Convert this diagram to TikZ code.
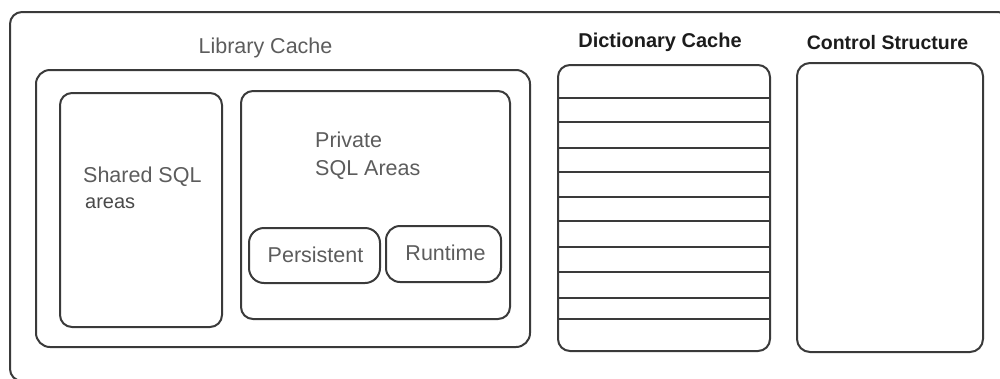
\documentclass[tikz,border=0pt]{standalone}
\usepackage{fontspec}
\setmainfont{Liberation Sans}
\definecolor{edge}{HTML}{3A3A3A}
\definecolor{graytext}{HTML}{5C5C5C}
\definecolor{darktext}{HTML}{1C1C1C}
\tikzset{
  box/.style={draw=edge, line width=2pt, rounded corners=12pt, rectangle, inner sep=0pt, outer sep=0pt},
  pill/.style={box, rounded corners=15pt},
  lbl/.style={inner sep=0pt, text=graytext, font=\fontsize{21.5}{28}\selectfont},
  title/.style={inner sep=0pt, text=darktext, font=\fontsize{20}{24}\selectfont\bfseries},
  shelf/.style={draw=edge, line width=2pt}
}
\begin{document}
\begin{tikzpicture}[x=1pt, y=-1pt]
\useasboundingbox (0,0) rectangle (1000,378);
\clip (0,0) rectangle (1000,378);
% outer frame (extends past right edge, bottom just past the image edge)
\node[box, minimum width=1000pt, minimum height=369pt] (outer) at (510,196.5) {};
% library cache
\node[box, rounded corners=14pt, minimum width=494pt, minimum height=277pt] (lib) at (283,208.5) {};
\node[box, minimum width=162pt, minimum height=234pt] (shared) at (141,210) {};
\node[box, minimum width=269pt, minimum height=228pt] (private) at (375.5,205) {};
\node[pill, minimum width=131pt, minimum height=55pt] (persist) at (314.5,255.5) {};
\node[pill, rounded corners=14pt, minimum width=115pt, minimum height=56pt] (runtime) at (443.5,254) {};
% dictionary cache
\node[box, minimum width=212pt, minimum height=286pt] (dict) at (664,208) {};
\foreach \y in {98,122,148,172,197,221,247,272,298,319}
  \draw[shelf] (dict.west |- 0,\y) -- (dict.east |- 0,\y);
% control structure
\node[box, rounded corners=13pt, minimum width=186pt, minimum height=289pt] (ctrl) at (890,207.5) {};
% labels
\node[lbl, anchor=base] (libtxt) at (265.5,53) {Library Cache};
\node[lbl, anchor=base west] (sharedtxt) at (83,182) {Shared SQL};
\node[lbl, anchor=base west, text=darktext!80, font=\fontsize{20}{24}\selectfont] (areastxt) at (85,208) {areas};
\node[lbl, anchor=base west] (privtxt) at (315,147) {Private};
\node[lbl, anchor=base west] (sqltxt) at (315,175) {SQL Areas};
\node[lbl, anchor=base] (persisttxt) at (315.5,262) {Persistent};
\node[lbl, anchor=base] (runtimetxt) at (445.5,260) {Runtime};
\node[title, anchor=base] (dicttxt) at (660,47) {Dictionary Cache};
\node[title, anchor=base, font=\fontsize{19.5}{24}\selectfont\bfseries] (ctrltxt) at (887.5,49) {Control Structure};
\end{tikzpicture}
\end{document}
